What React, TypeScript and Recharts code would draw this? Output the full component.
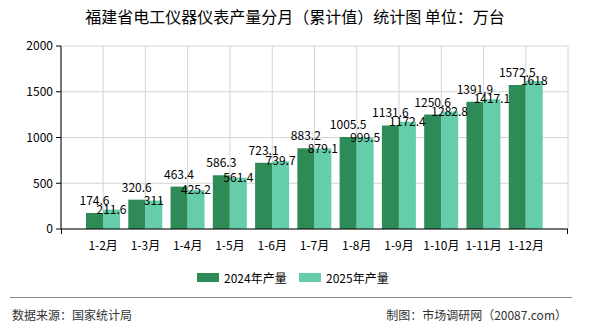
/**
 * 福建省电工仪器仪表产量分月（累计值）统计图
 * 两年累计产量对比，分组柱状图
 */
import { BarChart, Bar, XAxis, YAxis, CartesianGrid, LabelList } from 'recharts';

const months = ['1-2月', '1-3月', '1-4月', '1-5月', '1-6月', '1-7月', '1-8月', '1-9月', '1-10月', '1-11月', '1-12月'];
const output2024 = [174.6, 320.6, 463.4, 586.3, 723.1, 883.2, 1005.5, 1131.6, 1250.6, 1391.9, 1572.5];
const output2025 = [211.6, 311, 425.2, 561.4, 739.7, 879.1, 999.5, 1172.4, 1282.8, 1417.1, 1618];
const yTicks = [0, 500, 1000, 1500, 2000];
const seriesNames = ['2024年产量', '2025年产量'];
const seriesColors = ['#2E8B57', '#66CDAA'];

const FONT = "'Noto Sans CJK SC', sans-serif";

export default function App() {
  const chartData = months.map((month, i) => ({
    month,
    y2024: output2024[i],
    y2025: output2025[i],
  }));

  return (
    <div
      style={{
        position: 'absolute',
        left: 0,
        top: 0,
        width: 590,
        height: 330,
        background: '#fff',
        fontFamily: FONT,
        color: '#000',
      }}
    >
      <div
        style={{
          position: 'absolute',
          left: 0,
          top: 5,
          width: 590,
          textAlign: 'center',
          fontSize: 16,
          lineHeight: '22px',
        }}
      >
        福建省电工仪器仪表产量分月（累计值）统计图 单位：万台
      </div>

      <BarChart
        width={590}
        height={330}
        data={chartData}
        margin={{ top: 46, right: 22, bottom: 71, left: 11 }}
        barGap={0}
        barSize={17}
        style={{ position: 'absolute', left: 0, top: 0 }}
      >
        <CartesianGrid stroke="#d4d4d4" />
        <XAxis
          dataKey="month"
          height={30}
          interval={0}
          padding={{ left: 21, right: 21 }}
          axisLine={{ stroke: '#000' }}
          tickLine={false}
          tickMargin={6}
          tick={{ fontSize: 12, fill: '#000', fontFamily: FONT }}
        />
        <YAxis
          width={50}
          domain={[0, 2000]}
          ticks={yTicks}
          axisLine={{ stroke: '#000' }}
          tickLine={{ stroke: '#000' }}
          tickSize={5}
          tickMargin={3}
          tick={{ fontSize: 12, fill: '#000', fontFamily: FONT }}
        />
        <Bar dataKey="y2024" name={seriesNames[0]} fill={seriesColors[0]} isAnimationActive={false}>
          <LabelList dataKey="y2024" position="top" offset={8} fill="#000" fontSize={12} fontFamily={FONT} />
        </Bar>
        <Bar dataKey="y2025" name={seriesNames[1]} fill={seriesColors[1]} isAnimationActive={false}>
          <LabelList dataKey="y2025" position="top" offset={-4} fill="#000" fontSize={12} fontFamily={FONT} />
        </Bar>
      </BarChart>

      {/* 横轴两端刻度 */}
      <div style={{ position: 'absolute', left: 61, top: 229, width: 1, height: 5, background: '#000' }} />
      <div style={{ position: 'absolute', left: 567, top: 229, width: 1, height: 5, background: '#000' }} />

      {/* 图例 */}
      {seriesNames.map((name, i) => (
        <div
          key={name}
          style={{
            position: 'absolute',
            left: 197 + i * 102,
            top: 269,
            height: 16,
            display: 'flex',
            alignItems: 'center',
            fontSize: 12,
          }}
        >
          <span style={{ display: 'inline-block', width: 22, height: 9, background: seriesColors[i], marginRight: 5 }} />
          {name}
        </div>
      ))}

      {/* 底部来源 */}
      <div style={{ position: 'absolute', left: 10, top: 297, width: 562, height: 1, background: '#888' }} />
      <div style={{ position: 'absolute', left: 12, top: 307, fontSize: 12, color: '#333', lineHeight: '16px' }}>
        数据来源：国家统计局
      </div>
      <div
        style={{
          position: 'absolute',
          right: 23,
          top: 307,
          fontSize: 12,
          color: '#333',
          lineHeight: '16px',
        }}
      >
        制图：市场调研网（20087.com）
      </div>
    </div>
  );
}
